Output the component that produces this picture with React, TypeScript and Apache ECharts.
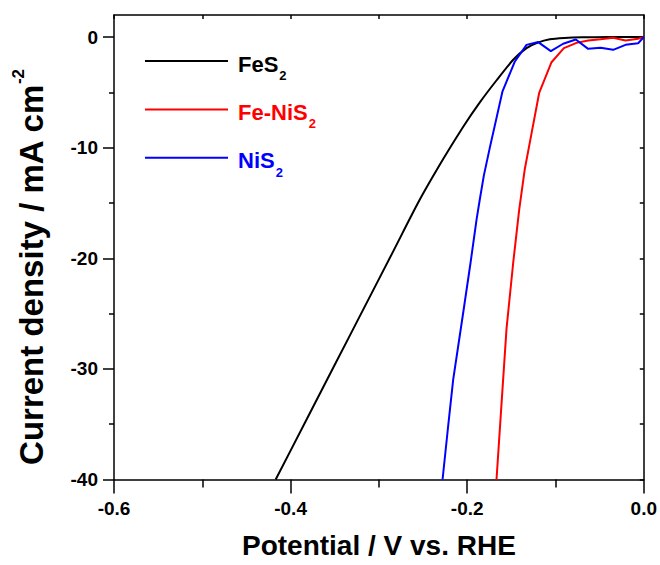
import React, { useEffect, useRef } from 'react';
import * as echarts from 'echarts';

const FONT = '"Liberation Sans", Arial, Helvetica, sans-serif';

const seriesNames = ['FeS2', 'Fe-NiS2', 'NiS2'];
const seriesColors = ['#000000', '#ff0000', '#0000ff'];
const seriesSmooth = [0.25, false, false];

// FeS2 (black)
const fes2Potential = [-0.4169, -0.38, -0.35, -0.32, -0.2838, -0.2544, -0.2272, -0.2045, -0.1857, -0.1667, -0.1479, -0.1328, -0.12, -0.1064, -0.09, -0.07, -0.04, 0];
const fes2Current = [-40, -34.28, -29.63, -24.98, -19.37, -14.8, -11.03, -8.1, -5.9, -3.9, -2.05, -1.0, -0.5, -0.2, -0.08, -0.02, 0, 0];

// Fe-NiS2 (red)
const feNis2Potential = [-0.1668, -0.161, -0.1555, -0.1479, -0.1411, -0.1347, -0.129, -0.1185, -0.1045, -0.0905, -0.0762, -0.063, -0.049, -0.0347, -0.0207, -0.0064, 0];
const feNis2Current = [-40, -33, -26.4, -20.4, -15.6, -11.9, -9.5, -5.05, -2.27, -1.0, -0.52, -0.3, -0.2, -0.06, -0.3, -0.15, 0];

// NiS2 (blue)
const nis2Potential = [-0.2279, -0.222, -0.2159, -0.2045, -0.1962, -0.1894, -0.1857, -0.1811, -0.1743, -0.16, -0.146, -0.1328, -0.1196, -0.1053, -0.0913, -0.077, -0.063, -0.0489, -0.0347, -0.0207, -0.0064, 0];
const nis2Current = [-40, -35.5, -31, -24.9, -20.4, -16.5, -14.66, -12.5, -9.97, -4.9, -2.2, -0.7, -0.45, -1.27, -0.6, -0.22, -1.06, -0.97, -1.15, -0.7, -0.55, 0];

const xMajorTicks = [-0.6, -0.4, -0.2, 0.0];
const yMajorTicks = [-40, -30, -20, -10, 0];
const yMinorTicks = [-35, -25, -15, -5];
const yAllTicks = [-40, -35, -30, -25, -20, -15, -10, -5, 0];

const xTitle = 'Potential / V vs. RHE';
const yTitleMain = 'Current density / mA cm';
const yTitleSup = '-2';

const zip = (xs: number[], ys: number[]) => xs.map((x, i) => [x, ys[i]]);

export default function App() {
  const ref = useRef<HTMLDivElement>(null);

  useEffect(() => {
    if (!ref.current) return;
    const chart = echarts.init(ref.current, null, { renderer: 'svg' });
    const datasets = [zip(fes2Potential, fes2Current), zip(feNis2Potential, feNis2Current), zip(nis2Potential, nis2Current)];

    const legendRich: Record<string, any> = {};
    seriesColors.forEach((c, i) => {
      legendRich['b' + i] = { fontSize: 22, fontWeight: 'bold', color: c, fontFamily: FONT, padding: [6, 0, 0, 5] };
      legendRich['s' + i] = { fontSize: 13, fontWeight: 'bold', color: c, fontFamily: FONT, padding: [29, 0, 0, 1] };
    });

    const axisLineStyle = { color: '#000', width: 1.5 };

    const option: any = {
      animation: false,
      textStyle: { fontFamily: FONT },
      grid: { left: 114, right: 16, top: 15, bottom: 85.5, containLabel: false },
      legend: {
        orient: 'vertical',
        left: 145,
        top: 53,
        padding: 0,
        itemGap: 19.4,
        itemWidth: 83,
        itemHeight: 2,
        icon: 'rect',
        selectedMode: false,
        data: seriesNames.map((n) => ({ name: n })),
        formatter: (name: string) => {
          const i = seriesNames.indexOf(name);
          const m = name.match(/^(.*?)(\d+)$/);
          return m ? `{b${i}|${m[1]}}{s${i}|${m[2]}}` : `{b${i}|${name}}`;
        },
        textStyle: { rich: legendRich },
      },
      xAxis: [
        {
          type: 'value',
          position: 'bottom',
          min: -0.6,
          max: 0,
          interval: 0.2,
          axisLine: { show: true, onZero: false, lineStyle: axisLineStyle },
          axisTick: { show: true, inside: false, length: 14, lineStyle: axisLineStyle },
          minorTick: { show: true, splitNumber: 2, length: 8, lineStyle: { color: '#000', width: 1.5 } },
          splitLine: { show: false },
          axisLabel: {
            customValues: xMajorTicks,
            margin: 19,
            fontSize: 19,
            fontWeight: 'bold',
            color: '#000',
            fontFamily: FONT,
            formatter: (v: number) => v.toFixed(1),
          },
          name: xTitle,
          nameLocation: 'middle',
          nameGap: 52,
          nameTextStyle: { fontSize: 28, fontWeight: 'bold', color: '#000', fontFamily: FONT },
        },
        {
          type: 'value',
          position: 'top',
          min: -0.6,
          max: 0,
          interval: 0.1,
          axisLine: { show: true, onZero: false, lineStyle: axisLineStyle },
          axisTick: { show: true, inside: true, length: 4, lineStyle: axisLineStyle },
          axisLabel: { show: false },
          splitLine: { show: false },
        },
      ],
      yAxis: [
        {
          type: 'value',
          position: 'left',
          min: -40,
          max: 2,
          interval: 10,
          axisLine: { show: true, onZero: false, lineStyle: axisLineStyle },
          axisTick: { show: true, inside: false, length: 11, customValues: yMajorTicks, lineStyle: axisLineStyle },
          axisLabel: {
            customValues: yMajorTicks,
            margin: 16,
            fontSize: 19,
            fontWeight: 'bold',
            color: '#000',
            fontFamily: FONT,
          },
          splitLine: { show: false },
          name: `{m|${yTitleMain}}{sup|${yTitleSup}}`,
          nameLocation: 'middle',
          nameGap: 62,
          nameTextStyle: {
            color: '#000',
            padding: [0, 40, 0, 0],
            rich: {
              m: { fontSize: 33, fontWeight: 'bold', color: '#000', fontFamily: FONT },
              sup: { fontSize: 17, fontWeight: 'bold', color: '#000', fontFamily: FONT, padding: [0, 0, 25, 0] },
            },
          },
        },
        {
          type: 'value',
          position: 'left',
          min: -40,
          max: 2,
          interval: 10,
          axisLine: { show: false, onZero: false },
          axisTick: { show: true, inside: false, length: 5, customValues: yMinorTicks, lineStyle: axisLineStyle },
          axisLabel: { show: false },
          splitLine: { show: false },
        },
        {
          type: 'value',
          position: 'right',
          min: -40,
          max: 2,
          interval: 5,
          axisLine: { show: true, onZero: false, lineStyle: axisLineStyle },
          axisTick: { show: true, inside: true, length: 4, customValues: yAllTicks, lineStyle: axisLineStyle },
          axisLabel: { show: false },
          splitLine: { show: false },
        },
      ],
      series: seriesNames.map((n, i) => ({
        name: n,
        type: 'line',
        xAxisIndex: 0,
        yAxisIndex: 0,
        data: datasets[i],
        symbol: 'none',
        showSymbol: false,
        smooth: seriesSmooth[i],
        clip: true,
        lineStyle: { color: seriesColors[i], width: 2 },
        itemStyle: { color: seriesColors[i] },
      })),
    };

    chart.setOption(option);
    return () => chart.dispose();
  }, []);

  return <div ref={ref} style={{ position: 'fixed', left: 0, top: 0, width: 660, height: 565, background: '#fff' }} />;
}
